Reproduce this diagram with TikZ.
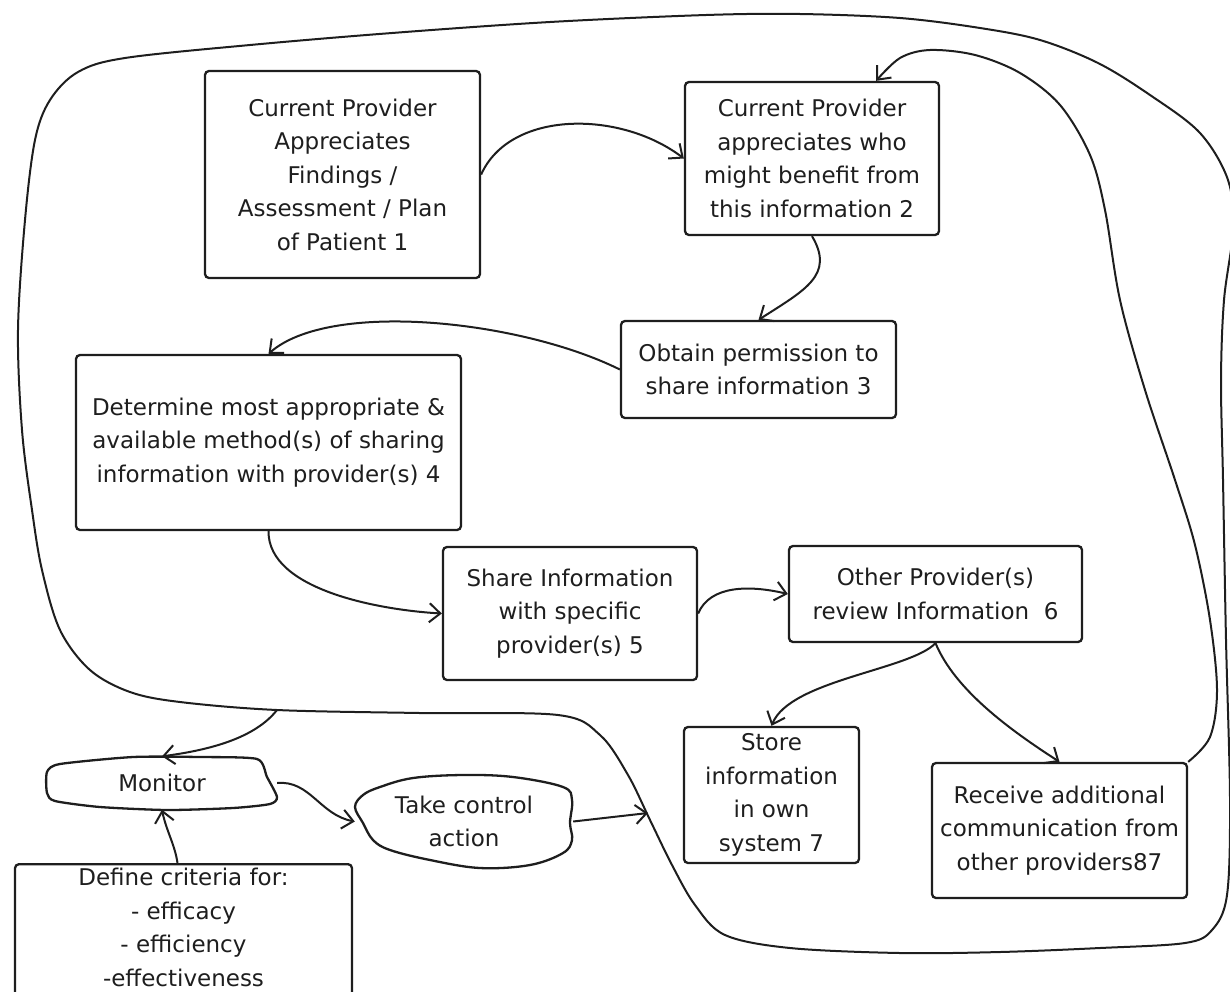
\documentclass[tikz,border=0pt]{standalone}
\usepackage{fontspec}
\setmainfont{DejaVu Sans}
\definecolor{mInk}{HTML}{1E1E1E}
\usetikzlibrary{arrows.meta, calc}

\begin{document}
\begin{tikzpicture}[x=1pt, y=-1pt,
  every node/.style={font=\fontsize{23}{33.5}\selectfont, text=mInk, align=center},
  procbox/.style={draw=mInk, line width=2.3pt, rounded corners=4pt, inner sep=2pt},
  flowarrow/.style={draw=mInk, line width=2pt, -{Straight Barb[length=11pt, width=19pt]}},
  blobline/.style={draw=mInk, line width=2.3pt},
  loopline/.style={draw=mInk, line width=2pt}]
\useasboundingbox (0,0) rectangle (1230,991);

\draw[loopline] plot[smooth cycle, tension=0.55] coordinates {
  (277,710) (420,713) (558,715) (600,735) (628,775) (650,820) (672,865)
  (695,905) (725,935) (790,948) (900,953) (1000,952) (1100,948) (1185,943)
  (1212,930) (1227,895) (1230,800) (1226,640) (1223,480) (1221,380)
  (1224,300) (1233,230) (1228,180) (1200,133) (1150,95) (1098,63) (1040,40)
  (980,28) (900,18) (800,14) (706,15) (550,22) (392,33) (250,45) (125,58)
  (78,72) (50,100) (35,140) (25,220) (18,330) (22,430) (32,510) (42,570)
  (60,630) (90,670) (130,692) (180,702)};
\coordinate (loopM) at (277,710);
\coordinate (loopT) at (648,813);

\node[procbox, minimum width=275pt, minimum height=207pt] (current) at (342.5,174.5)
  {Current Provider\\Appreciates\\Findings /\\Assessment / Plan\\of Patient 1};
\node[procbox, minimum width=254pt, minimum height=153pt] (benefit) at (812,158.5)
  {Current Provider\\appreciates who\\might benefit from\\this information 2};
\node[procbox, minimum width=275pt, minimum height=97pt] (permission) at (758.5,369.5)
  {Obtain permission to\\share information 3};
\node[procbox, minimum width=385pt, minimum height=175pt] (method) at (268.5,442.5)
  {Determine most appropriate \&\\available method(s) of sharing\\information with provider(s) 4};
\node[procbox, minimum width=254pt, minimum height=133pt] (share) at (570,613.5)
  {Share Information\\with specific\\provider(s) 5};
\node[procbox, minimum width=293pt, minimum height=96pt] (review) at (935.5,594)
  {Other Provider(s)\\review Information~~6};
\node[procbox, minimum width=175pt, minimum height=136pt] (store) at (771.5,795)
  {Store\\information\\in own\\system 7};
\node[procbox, minimum width=255pt, minimum height=135pt] (receive) at (1059.5,830.5)
  {Receive additional\\communication from\\other providers87};
\node[procbox, minimum width=337pt, minimum height=140pt, anchor=north, inner sep=4pt,
      text depth=116pt] (criteria) at (183.5,863)
  {Define criteria for:\\- efficacy\\- efficiency\\-effectiveness};

\node[minimum width=230pt, minimum height=53pt] (monitor) at (162,783) {Monitor};
\draw[blobline] plot[smooth cycle, tension=0.4] coordinates {
  (47,772) (60,764) (133,757) (200,757) (257,759) (267,777) (277,797)
  (270,804) (233,808) (167,810) (100,807) (55,801) (47,793)};

\node[minimum width=218pt, minimum height=93pt] (control) at (464,821.5) {Take control\\action};
\draw[blobline] plot[smooth cycle, tension=0.6] coordinates {
  (355,807) (363,795) (380,787) (413,778) (463,775) (513,777) (563,787)
  (572,800) (570,823) (572,840) (563,853) (530,865) (480,868) (430,860)
  (390,850) (373,840) (363,823)};

\coordinate (benefitin) at ($(benefit.north)!0.5!(benefit.north east)$);

\draw[flowarrow] (current.east) .. controls (510,110) and (620,110) .. (benefit.west);
\draw[flowarrow] (benefit.south) .. controls (835,275) and (805,290) .. (permission.north);
\draw[flowarrow] (permission.west) .. controls (520,320) and (330,300) .. (method.north);
\draw[flowarrow] (method.south) .. controls (268,590) and (380,610) .. (share.west);
\draw[flowarrow] (share.east) .. controls (710,585) and (750,585) .. (review.west);
\draw[flowarrow] (review.south) .. controls (910,670) and (790,680) .. (store.north);
\draw[flowarrow] (review.south) .. controls (955,690) and (1010,730) .. (receive.north);
\draw[flowarrow] plot[smooth, tension=0.55] coordinates {
  (receive.north east) (1210,737) (1217,690) (1210,620) (1195,545) (1175,480)
  (1145,390) (1120,300) (1105,210) (1090,155) (1060,105) (1020,73) (975,55)
  (930,50) (900,58) (benefitin)};
\draw[flowarrow] (loopM) .. controls (255,738) and (210,750) .. (monitor.north);
\draw[flowarrow] ([xshift=-6pt]criteria.north) .. controls (175,845) and (166,830) .. (monitor.south);
\draw[flowarrow] (monitor.east) .. controls (310,780) and (320,815) .. (control.west);
\draw[flowarrow] (control.east) -- (loopT);
\end{tikzpicture}
\end{document}
